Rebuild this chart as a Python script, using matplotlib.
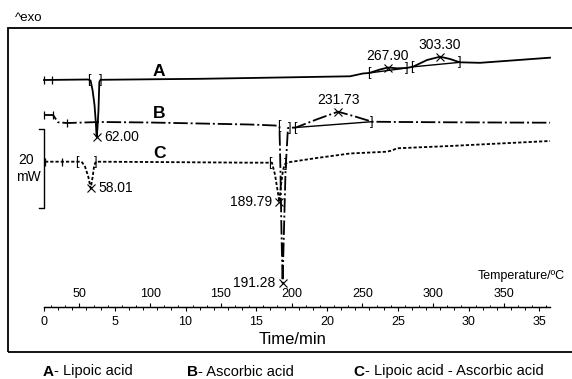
import numpy as np
import matplotlib
matplotlib.use('agg')
from matplotlib import pyplot as plt
from matplotlib.patches import Rectangle
from matplotlib.ticker import MultipleLocator

plt.rcParams['font.family'] = ['Liberation Sans', 'DejaVu Sans']

# DSC curves, heat flow in mW (exo up) relative to the start of each run
# A - lipoic acid
a_time = [0.00, 3.11, 3.29, 3.43, 3.57, 3.66, 3.72, 3.78, 3.85, 3.91, 3.99, 7.49, 11.02, 14.56, 17.39,
          21.63, 22.54, 22.97, 23.75, 24.31, 24.95, 25.63, 26.08, 27.07, 27.99, 28.69, 29.26, 29.40, 30.81, 35.76]
a_heat = [0.00, 0.13, -0.13, -2.53, -6.33, -10.63, -14.43, -12.15, -7.59, -0.51, 0.05, 0.18, 0.30, 0.51, 0.68,
          0.94, 1.65, 1.77, 2.66, 3.16, 2.96, 3.04, 3.37, 5.06, 5.90, 5.32, 4.63, 4.48, 4.35, 5.65]
# B - ascorbic acid
b_time = [0.00, 0.64, 0.99, 1.63, 3.96, 7.49, 11.02, 14.56, 16.33, 16.64, 16.71, 16.78, 16.86, 16.96, 17.07,
          17.24, 17.81, 19.29, 20.78, 21.98, 23.18, 25.16, 28.69, 32.23, 35.76]
b_heat = [0.00, 0.00, -1.85, -2.03, -1.77, -1.90, -2.15, -2.41, -2.66, -2.91, -13.92, -29.11, -42.53, -29.11, -13.92,
          -3.29, -3.16, -1.09, 0.84, -0.38, -1.70, -1.77, -1.85, -1.90, -1.95]
# C - lipoic acid - ascorbic acid
c_time = [0.07, 2.66, 2.90, 3.13, 3.30, 3.44, 3.55, 3.67, 7.49, 14.56, 16.11, 16.33, 16.50, 16.63, 16.75,
          16.89, 17.03, 17.39, 19.29, 21.63, 24.24, 24.59, 24.95, 28.69, 32.23, 35.76]
c_heat = [0.00, 0.00, -1.27, -3.80, -6.73, -3.80, -0.84, 0.00, -0.08, -0.25, -0.25, -3.37, -7.16, -10.13, -5.90,
          -2.10, -0.58, -0.08, 0.94, 2.08, 2.53, 2.84, 3.39, 3.97, 4.61, 5.24]

# start limits, integration limits and peaks (time/min)
a_starts = [0.00, 0.57]
b_starts = [0.00, 0.64, 1.63]
c_starts = [0.07, 1.27]
a_brackets = [('[', 3.18), (']', 3.99), ('[', 22.97), (']', 25.63), ('[', 25.99), (']', 29.40)]
b_brackets = [('[', 16.57), (']', 17.35), ('[', 17.74), (']', 23.18)]
c_brackets = [('[', 2.33), (']', 3.67), ('[', 15.97), (']', 17.10)]
a_peaks = [3.72, 24.31, 27.99]
a_labels = ['62.00', '267.90', '303.30']
b_peaks = [16.86, 20.78]
b_labels = ['191.28', '231.73']
c_peaks = [3.30, 16.63]
c_labels = ['58.01', '189.79']

time_ticks = [0, 5, 10, 15, 20, 25, 30, 35]
temp_ticks = [50, 100, 150, 200, 250, 300, 350]
scale_mw = 20
heating_rate = 10   # K/min
start_temp = 25     # degC

W, H = 572, 379
fig = plt.figure(figsize=(W / 100, H / 100), dpi=100)


def fx(x):
    return x / W


def fy(y):
    return 1 - y / H


# 14.15 px per minute, 3.95 px per mW
ax = fig.add_axes([fx(44), fy(352), 506 / W, 324 / H])
ax.set_xlim(0, 506 / 14.15)
ax.set_ylim(0, 324 / 3.95)
for s in ['left', 'right', 'top']:
    ax.spines[s].set_visible(False)
ax.spines['bottom'].set_position(('axes', 45 / 324))
ax.spines['bottom'].set_linewidth(0.9)
ax.set_yticks([])
ax.set_xticks(time_ticks)
ax.xaxis.set_minor_locator(MultipleLocator(1))
ax.tick_params(axis='x', which='major', direction='out', length=3.2, width=0.8, pad=3, labelsize=9)
ax.tick_params(axis='x', which='minor', direction='out', length=1.8, width=0.7)

sec = ax.secondary_xaxis(45 / 324, functions=(lambda t: start_temp + heating_rate * t,
                                              lambda T: (T - start_temp) / heating_rate))
sec.set_alignment('top')
sec.spines['top'].set_linewidth(0.9)
sec.set_xticks(temp_ticks)
sec.set_xticks(list(range(30, 381, 10)), minor=True)
sec.tick_params(axis='x', which='major', direction='out', length=3.2, width=0.8, pad=1.5, labelsize=9)
sec.tick_params(axis='x', which='minor', direction='out', length=1.8, width=0.7)

label_side = {'62.00': 'right', '58.01': 'right', '191.28': 'left', '189.79': 'left',
              '231.73': 'above', '267.90': 'above', '303.30': 'above'}


def draw_curve(t, q, off, ls, starts, brackets, peaks, labels, baselines):
    q = np.array(q) + off
    ax.plot(t, q, color='k', lw=1.3, ls=ls, clip_on=False)
    ax.plot(starts, np.interp(starts, t, q), ls='none', marker='|', ms=5.5, mew=0.9, color='k', clip_on=False)
    for ch, tb in brackets:
        ax.text(tb, np.interp(tb, t, q), ch, ha='center', va='center', fontsize=9)
    for t0, t1 in baselines:
        ax.plot([t0, t1], np.interp([t0, t1], t, q), color='k', lw=1.0)
    for tp, lab in zip(peaks, labels):
        yp = np.interp(tp, t, q)
        ax.plot(tp, yp, marker='x', ms=5.5, mew=0.8, color='k', clip_on=False)
        side = label_side[lab]
        if side == 'right':
            ax.annotate(lab, (tp, yp), xytext=(5.5, 0), textcoords='offset points', ha='left', va='center', fontsize=10)
        elif side == 'left':
            ax.annotate(lab, (tp, yp), xytext=(-5, 0), textcoords='offset points', ha='right', va='center', fontsize=10)
        else:
            ax.annotate(lab, (tp, yp), xytext=(0, 8.5), textcoords='offset points', ha='center', va='center', fontsize=10)


draw_curve(a_time, a_heat, 68.86, '-', a_starts, a_brackets, a_peaks, a_labels,
           [(22.97, 25.63), (25.99, 29.40)])
draw_curve(b_time, b_heat, 60.0, (0, (8, 1.6, 1.1, 1.6)), b_starts, b_brackets, b_peaks, b_labels,
           [(17.74, 23.18)])
draw_curve(c_time, c_heat, 48.18, (0, (1.8, 1.1)), c_starts, c_brackets, c_peaks, c_labels, [])

# 20 mW scale bar
bar_bottom = 36.46
ax.plot([-0.35, 0, 0, -0.35], [bar_bottom, bar_bottom, bar_bottom + scale_mw, bar_bottom + scale_mw],
        color='k', lw=1.0, clip_on=False)
fig.text(fx(26), fy(160), str(scale_mw), ha='center', va='center', fontsize=10)
fig.text(fx(28), fy(177), 'mW', ha='center', va='center', fontsize=10)

# curve letters
for letter, yy in [('A', 72), ('B', 113), ('C', 153)]:
    fig.text(fx(159), fy(yy), letter, ha='center', va='center', fontsize=12.5, fontweight='bold')

fig.text(fx(15), fy(18), '^exo', ha='left', va='center', fontsize=9.5)
fig.text(fx(565), fy(276), 'Temperature/ºC', ha='right', va='center', fontsize=9)
fig.text(fx(293), fy(340), 'Time/min', ha='center', va='center', fontsize=12)

fig.patches.append(Rectangle((fx(7.5), fy(352)), 1.0, 324 / H, transform=fig.transFigure,
                             fill=False, lw=1.3, color='k'))

# legend below the box
for letter, name, xx in [('A', '- Lipoic acid', 42.7), ('B', '- Ascorbic acid', 186.7),
                         ('C', '- Lipoic acid - Ascorbic acid', 353.3)]:
    t1 = fig.text(fx(xx), fy(371.5), letter, ha='left', va='center', fontsize=11, fontweight='bold')
    ax.annotate(name, xy=(1, 0.5), xycoords=t1, xytext=(0.5, 0), textcoords='offset points',
                ha='left', va='center', fontsize=10.5, annotation_clip=False)

fig.savefig('out.png', dpi=100)
